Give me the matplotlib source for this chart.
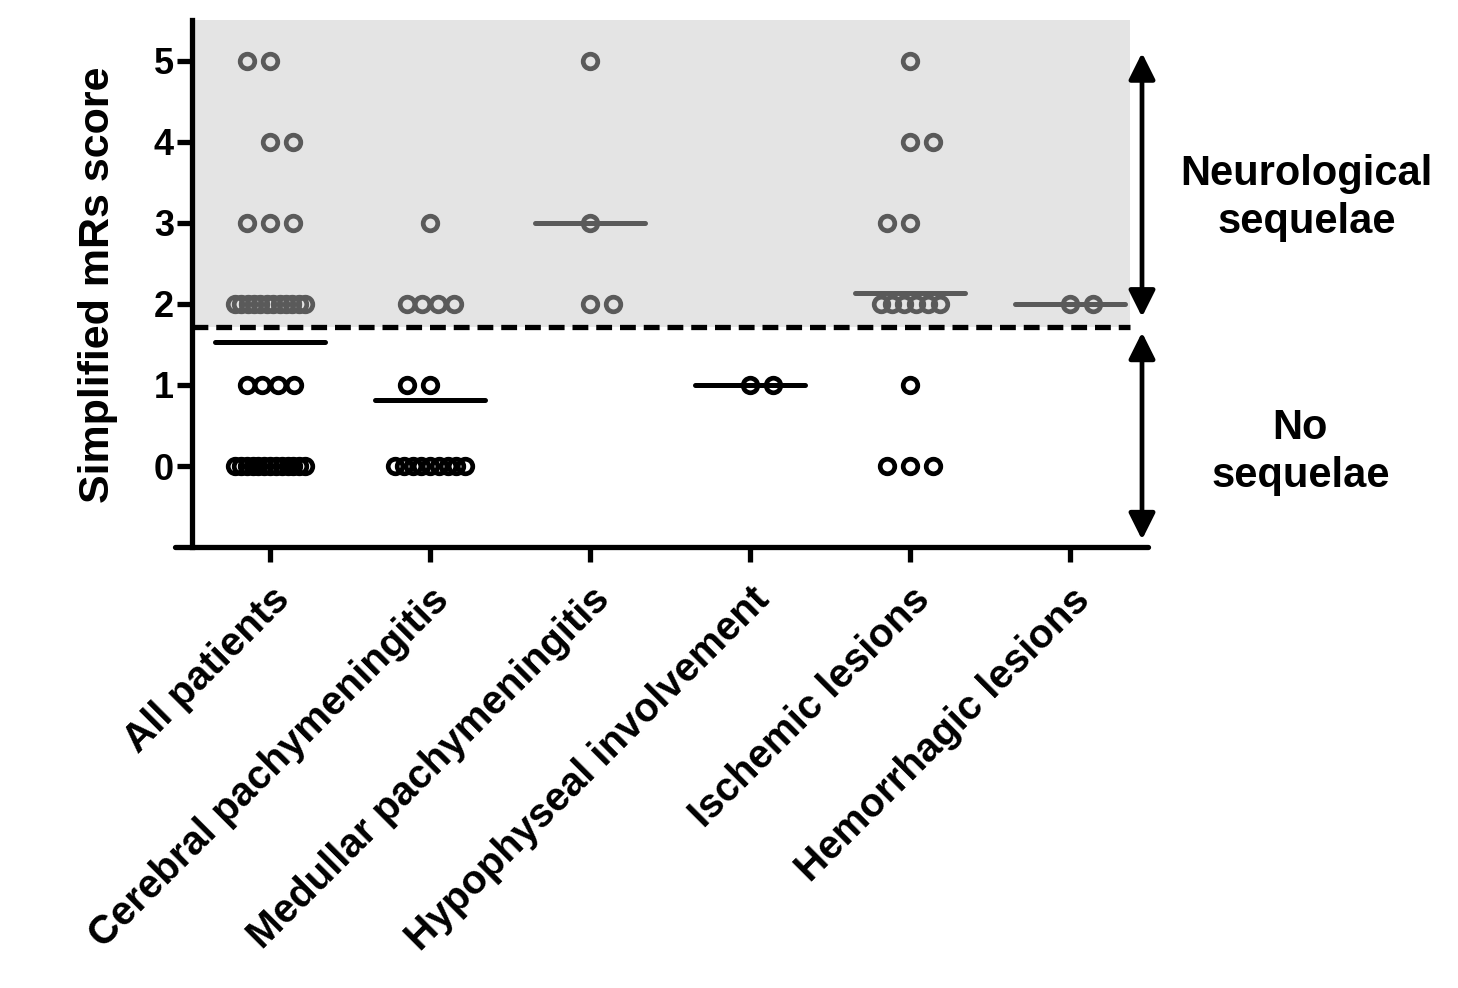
import numpy as np
import matplotlib
matplotlib.use("Agg")
import matplotlib.pyplot as plt
from matplotlib.patches import ArrowStyle

plt.rcParams['font.family'] = ['Liberation Sans', 'DejaVu Sans']
plt.rcParams['font.weight'] = 'bold'

# ---------------- data ----------------
categories = ["All patients", "Cerebral pachymeningitis", "Medullar pachymeningitis",
              "Hypophyseal involvement", "Ischemic lesions", "Hemorrhagic lesions"]
scores = [0, 1, 2, 3, 4, 5]
# number of patients at each simplified mRs score (0..5) per category
all_patients   = [13, 4, 12, 3, 2, 2]
cerebral_pachy = [9, 2, 4, 1, 0, 0]
medullar_pachy = [0, 0, 2, 1, 0, 1]
hypophyseal    = [0, 2, 0, 0, 0, 0]
ischemic       = [3, 1, 6, 2, 2, 1]
hemorrhagic    = [0, 0, 2, 0, 0, 0]
counts = [all_patients, cerebral_pachy, medullar_pachy, hypophyseal, ischemic, hemorrhagic]
threshold = 1.72
yticks = [0, 1, 2, 3, 4, 5]

# ---------------- style / layout ----------------
GRAY = '#5a5a5a'
SHADE = '#e4e4e4'
PX = 1.0 / 160.0   # data units per pixel horizontally
# which side a pair of points sits on (layout of the scatter)
pair_side = {(0, 5): -1, (0, 4): 1, (1, 1): -1, (2, 2): 1, (3, 1): 1,
             (4, 4): 1, (4, 3): -1, (5, 2): 1}

def offsets(n, side):
    if n == 1:
        return np.array([0.0])
    if n == 2:
        return np.array([-23.0, 0.0]) if side < 0 else np.array([0.0, 23.0])
    if n == 3:
        return np.array([-23.0, 0.0, 23.0])
    w = min(70.0, 47.0 + (n - 4) * 6.0)
    return np.linspace(-w / 2, w / 2, n)

fig = plt.figure(figsize=(14.58, 9.88), dpi=100)
ax = fig.add_axes([175 / 1458, 1 - 547 / 988, 973 / 1458, 526.5 / 988])
xleft = -0.4875
ax.set_xlim(-0.594, 5.4875)
ax.set_ylim(-1, 5.5)

# shaded region + threshold line
ax.fill_between([xleft, 5.375], threshold, 5.5, color=SHADE, lw=0, zorder=0)
ax.plot([xleft, 5.375], [threshold, threshold], color='black', lw=3.8,
        dashes=(3.0, 1.5), zorder=3)

for i, cnt in enumerate(counts):
    vals = []
    for s, n in zip(scores, cnt):
        if n == 0:
            continue
        offs = offsets(n, pair_side.get((i, s), 1)) * PX
        col = GRAY if s >= threshold else 'black'
        ax.plot(i + offs, [s] * n, 'o', ms=10.5, mew=3.4, mfc='none', mec=col,
                zorder=4, clip_on=False)
        vals += [s] * n
    m = np.mean(vals)
    col = GRAY if m >= threshold else 'black'
    ax.plot([i - 0.344, i + 0.344], [m, m], color=col, lw=3.6,
            solid_capstyle='round', zorder=3)

# spines
for sp in ['top', 'right']:
    ax.spines[sp].set_visible(False)
ax.spines['left'].set_position(('data', xleft))
ax.spines['left'].set_linewidth(3.8)
ax.spines['bottom'].set_linewidth(3.8)
ax.spines['bottom'].set_capstyle('round')

ax.set_yticks(yticks)
ax.set_yticklabels([str(t) for t in yticks], fontsize=26, fontweight='bold')
ax.set_xticks(range(len(categories)))
ax.set_xticklabels(categories, rotation=45, ha='right', va='top',
                   rotation_mode='anchor', fontsize=29, fontweight='bold')
ax.tick_params(axis='both', direction='out', length=11, width=3.8)
ax.tick_params(axis='y', pad=2)
ax.tick_params(axis='x', pad=13)

fig.text(98 / 1458, 1 - 285 / 988, "Simplified mRs score", rotation=90,
         ha='center', va='center', fontsize=31, fontweight='bold')

# arrows
astyle = ArrowStyle('<|-|>', head_length=0.8, head_width=0.4)
ax.annotate('', xy=(5.45, 1.84), xytext=(5.45, 5.1),
            arrowprops=dict(arrowstyle=astyle, lw=3.4, color='black',
                            mutation_scale=20, shrinkA=0, shrinkB=0),
            annotation_clip=False)
ax.annotate('', xy=(5.45, -0.91), xytext=(5.45, 1.65),
            arrowprops=dict(arrowstyle=astyle, lw=3.4, color='black',
                            mutation_scale=20, shrinkA=0, shrinkB=0),
            annotation_clip=False)

ax.text(6.48, 3.31, "Neurological\nsequelae", ha='center', va='center',
        fontsize=30, fontweight='bold', linespacing=1.25, clip_on=False)
ax.text(6.44, 0.17, "No\nsequelae", ha='center', va='center',
        fontsize=30, fontweight='bold', linespacing=1.25, clip_on=False)

fig.savefig("out.png", dpi=100)
